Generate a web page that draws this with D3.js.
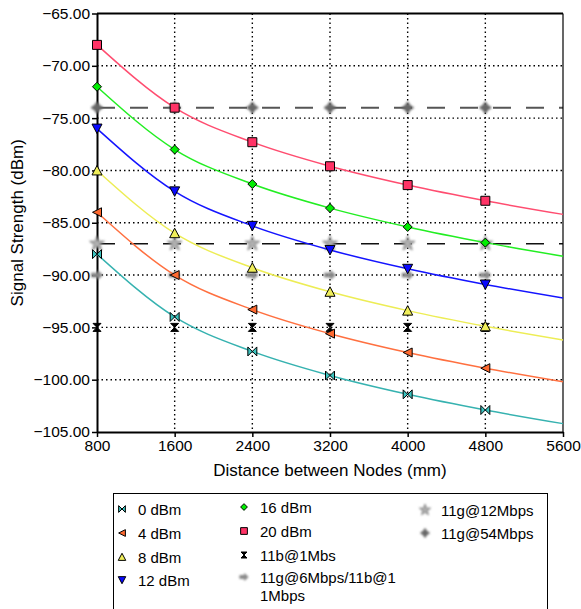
<!DOCTYPE html>
<html>
<head>
<meta charset="utf-8">
<script src="https://cdn.jsdelivr.net/npm/d3@7"></script>
<style>
  body { margin: 0; background: #fff; }
  svg text { font-family: Arial, "Liberation Sans", sans-serif; }
</style>
</head>
<body>
<div id="chart"></div>
<script>
// Distances (mm) and signal strength per transmit power (dBm)
const distances = [800, 1600, 2400, 3200, 4000, 4800, 5600];
const markerDistances = [800, 1600, 2400, 3200, 4000, 4800];
const p0 = [-88, -94, -97.3, -99.6, -101.4, -102.9, -104.2];
const p4 = [-84, -90, -93.3, -95.6, -97.4, -98.9, -100.2];
const p8 = [-80, -86, -89.3, -91.6, -93.4, -94.9, -96.2];
const p12 = [-76, -82, -85.3, -87.6, -89.4, -90.9, -92.2];
const p16 = [-72, -78, -81.3, -83.6, -85.4, -86.9, -88.2];
const p20 = [-68, -74, -77.3, -79.6, -81.4, -82.9, -84.2];
// receiver sensitivity thresholds (dBm)
const th1b = -95, th6g = -90, th12g = -87, th54g = -74;
const yTicks = [-105, -100, -95, -90, -85, -80, -75, -70, -65];
const xTicks = [800, 1600, 2400, 3200, 4000, 4800, 5600];

const width = 581, height = 609;
const margin = {top: 13.5, right: 18, bottom: 177, left: 97};

const svg = d3.select("#chart").append("svg")
  .attr("width", width)
  .attr("height", height);

const defs = svg.append("defs");
defs.append("filter").attr("id", "blur")
  .attr("x", "-50%").attr("y", "-50%").attr("width", "200%").attr("height", "200%")
  .append("feGaussianBlur").attr("stdDeviation", 0.8);

const x = d3.scaleLinear().domain([800, 5600]).range([margin.left, width - margin.right]);
const y = d3.scaleLinear().domain([-105, -65]).range([height - margin.bottom, margin.top]);

// marker shapes
const shapes = {
  bowtie: s => `M${-s},${-s}L0,0L${-s},${s}ZM${s},${-s}L0,0L${s},${s}Z`,
  hourglass: s => `M${-s},${-s}L${s},${-s}L0,0ZM${-s},${s}L${s},${s}L0,0Z`,
  left: s => `M${-s},0L${s},${-s}L${s},${s}Z`,
  up: s => `M0,${-s}L${s},${s * 0.9}L${-s},${s * 0.9}Z`,
  down: s => `M0,${s}L${s},${-s * 0.9}L${-s},${-s * 0.9}Z`,
  diamond: s => `M0,${-s}L${s},0L0,${s}L${-s},0Z`,
  square: s => `M${-s},${-s}H${s}V${s}H${-s}Z`,
  arrow: s => `M${-s},${-s * 0.35}H${s * 0.15}V${-s * 0.8}L${s},0L${s * 0.15},${s * 0.8}V${s * 0.35}H${-s}Z`,
  spark: s => `M0,${-s}L${s * 0.4},${-s * 0.4}L${s},0L${s * 0.4},${s * 0.4}L0,${s}L${-s * 0.4},${s * 0.4}L${-s},0L${-s * 0.4},${-s * 0.4}Z`,
  star: s => d3.symbol(d3.symbolStar, s * s * 2.2)()
};

const series = [
  {name: "0 dBm", values: p0, line: "#36b2b0", fill: "#3cc4c0", shape: "bowtie", size: 4.5},
  {name: "4 dBm", values: p4, line: "#ff7040", fill: "#ff6a30", shape: "left", size: 4.5},
  {name: "8 dBm", values: p8, line: "#eded55", fill: "#f0ee5a", shape: "up", size: 5},
  {name: "12 dBm", values: p12, line: "#1414ff", fill: "#0a0aff", shape: "down", size: 5},
  {name: "16 dBm", values: p16, line: "#22ee22", fill: "#00ee00", shape: "diamond", size: 4.5},
  {name: "20 dBm", values: p20, line: "#ff4d70", fill: "#ff3366", shape: "square", size: 4.5}
];

const thresholds = [
  {name: "11b@1Mbs", value: th1b, shape: "hourglass", fill: "#000", stroke: "#000", blur: false, size: 4},
  {name: "11g@6Mbps/11b@1", name2: "1Mbps", value: th6g, shape: "arrow", fill: "#888", stroke: "#888", blur: true, size: 5.5},
  {name: "11g@12Mbps", value: th12g, shape: "star", fill: "#b0b0b0", stroke: "#777", blur: true, size: 5.5},
  {name: "11g@54Mbps", value: th54g, shape: "spark", fill: "#666", stroke: "#666", blur: true, size: 6}
];

// gridlines
const gridX = xTicks.slice(1, -1), gridY = yTicks.slice(1, -1);
svg.append("g").selectAll("line").data(gridX).enter().append("line")
  .attr("x1", d => x(d)).attr("x2", d => x(d))
  .attr("y1", y(-65)).attr("y2", y(-105))
  .attr("stroke", "#000").attr("stroke-width", 1.4).attr("stroke-dasharray", "1.5,3");
svg.append("g").selectAll("line").data(gridY).enter().append("line")
  .attr("x1", x(800)).attr("x2", x(5600))
  .attr("y1", d => y(d)).attr("y2", d => y(d))
  .attr("stroke", "#000").attr("stroke-width", 1.4).attr("stroke-dasharray", "1.5,3");

// dashed threshold lines
svg.append("line")
  .attr("x1", x(800)).attr("x2", x(5600)).attr("y1", y(th54g)).attr("y2", y(th54g))
  .attr("stroke", "#555").attr("stroke-width", 2).attr("stroke-dasharray", "18,15");
svg.append("line")
  .attr("x1", x(800)).attr("x2", x(5600)).attr("y1", y(th12g)).attr("y2", y(th12g))
  .attr("stroke", "#111").attr("stroke-width", 1.5).attr("stroke-dasharray", "18,15");

// frame
svg.append("line").attr("x1", x(800)).attr("x2", x(5600)).attr("y1", y(-65)).attr("y2", y(-65))
  .attr("stroke", "#000").attr("stroke-width", 2);
svg.append("line").attr("x1", x(5600)).attr("x2", x(5600)).attr("y1", y(-65)).attr("y2", y(-105))
  .attr("stroke", "#000").attr("stroke-width", 1.2);

// axes
const yAxis = svg.append("g")
  .attr("transform", `translate(${margin.left},0)`)
  .call(d3.axisLeft(y).tickValues(yTicks).tickFormat(d3.format(".2f")).tickSize(5).tickSizeOuter(0));
const xAxis = svg.append("g")
  .attr("transform", `translate(0,${height - margin.bottom})`)
  .call(d3.axisBottom(x).tickValues(xTicks).tickFormat(d3.format("d")).tickSize(5).tickSizeOuter(0));
[yAxis, xAxis].forEach(a => {
  a.select(".domain").attr("stroke", "#000").attr("stroke-width", 2);
  a.selectAll(".tick line").attr("stroke", "#000").attr("stroke-width", 1.5);
  a.selectAll("text").attr("font-size", "15.5px").attr("fill", "#000")
    .attr("font-family", "Arial, 'Liberation Sans', sans-serif");
});
yAxis.selectAll("text").attr("x", -7);
xAxis.selectAll("text").attr("y", 8);

// threshold markers
thresholds.forEach(t => {
  svg.append("g").selectAll("path").data(markerDistances).enter().append("path")
    .attr("transform", d => `translate(${x(d)},${y(t.value)})`)
    .attr("d", shapes[t.shape](t.size))
    .attr("fill", t.fill).attr("stroke", t.stroke).attr("stroke-width", 1)
    .attr("filter", t.blur ? "url(#blur)" : null);
});

// series lines and markers
const line = d3.line().x((d, i) => x(distances[i])).y(d => y(d)).curve(d3.curveMonotoneX);
series.forEach(s => {
  svg.append("path").datum(s.values)
    .attr("d", line).attr("fill", "none")
    .attr("stroke", s.line).attr("stroke-width", 1.5);
});
series.forEach(s => {
  svg.append("g").selectAll("path").data(markerDistances).enter().append("path")
    .attr("transform", (d, i) => `translate(${x(d)},${y(s.values[i])})`)
    .attr("d", shapes[s.shape](s.size))
    .attr("fill", s.fill).attr("stroke", "#000").attr("stroke-width", 1);
});

// axis titles
svg.append("text")
  .attr("x", (x(800) + x(5600)) / 2).attr("y", 476)
  .attr("text-anchor", "middle").attr("font-size", "17px")
  .text("Distance between Nodes (mm)");
svg.append("text")
  .attr("transform", `translate(23,${(y(-65) + y(-105)) / 2}) rotate(-90)`)
  .attr("text-anchor", "middle").attr("font-size", "17px")
  .text("Signal Strength (dBm)");

// legend
const legend = svg.append("g");
legend.append("rect")
  .attr("x", 113.5).attr("y", 493.5).attr("width", 434).attr("height", 130)
  .attr("fill", "#fff").attr("stroke", "#000").attr("stroke-width", 1);

const legendItems = [
  {item: series[0], col: 0, row: 0},
  {item: series[1], col: 0, row: 1},
  {item: series[2], col: 0, row: 2},
  {item: series[3], col: 0, row: 3},
  {item: series[4], col: 1, row: 0},
  {item: series[5], col: 1, row: 1},
  {item: thresholds[0], col: 1, row: 2},
  {item: thresholds[1], col: 1, row: 3},
  {item: thresholds[2], col: 2, row: 0},
  {item: thresholds[3], col: 2, row: 1}
];
const colX = [122, 244, 425];
const rowY = [[509, 533, 557, 580], [507, 531, 555, 577], [510, 533]];
legendItems.forEach(l => {
  const cx = colX[l.col], cy = rowY[l.col][l.row];
  const it = l.item;
  legend.append("path")
    .attr("transform", `translate(${cx},${cy})`)
    .attr("d", shapes[it.shape](it.size * 0.75))
    .attr("fill", it.fill).attr("stroke", it.stroke || "#000").attr("stroke-width", 1)
    .attr("filter", it.blur ? "url(#blur)" : null);
  legend.append("text")
    .attr("x", cx + 16).attr("y", cy + 5.5)
    .attr("font-size", "15px").attr("fill", "#000")
    .text(it.name);
  if (it.name2) {
    legend.append("text")
      .attr("x", cx + 16).attr("y", cy + 23.5)
      .attr("font-size", "15px").attr("fill", "#000")
      .text(it.name2);
  }
});
</script>
</body>
</html>
